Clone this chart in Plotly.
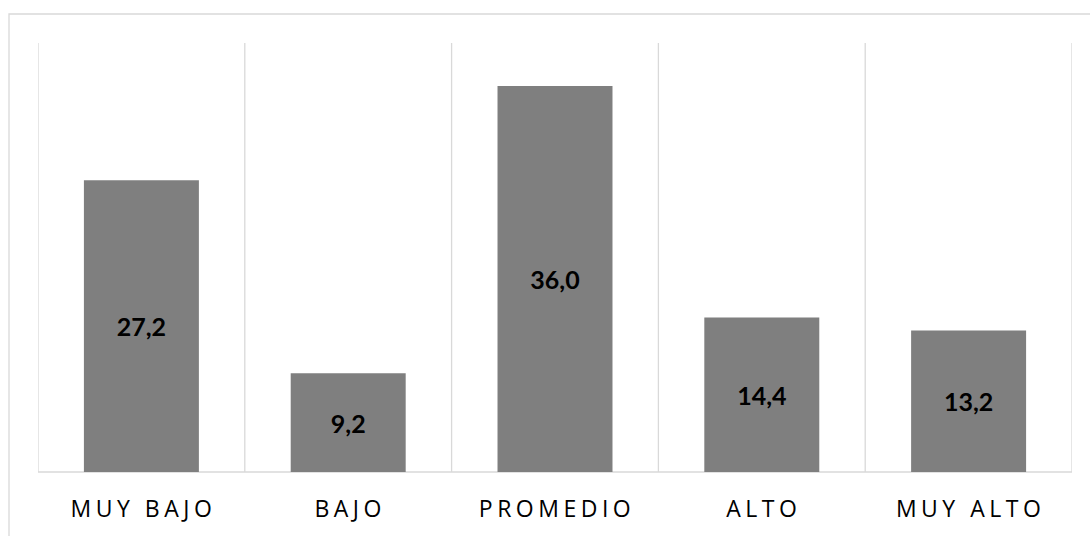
import plotly.graph_objects as go

categories = ["MUY BAJO", "BAJO", "PROMEDIO", "ALTO", "MUY ALTO"]
values = [27.2, 9.2, 36.0, 14.4, 13.2]

W, H = 1090, 536
ml, mr, mt, mb = 38, 18, 43, 64
grid = "#d9d9d9"

fig = go.Figure(go.Bar(
    x=list(range(len(categories))),
    y=values,
    marker=dict(color="#7f7f7f", line=dict(width=0)),
    texttemplate="%{y:.1f}",
    textposition="inside",
    insidetextanchor="middle",
    textangle=0,
    textfont=dict(family="Lato", size=25, color="#000000", weight="bold"),
    width=0.556,
    hoverinfo="skip",
))

shapes = []
for i in range(len(categories) + 1):
    shapes.append(dict(type="line", xref="x", yref="paper",
                       x0=i - 0.5, x1=i - 0.5, y0=0, y1=1,
                       line=dict(color=grid, width=1.3), layer="below"))
shapes.append(dict(type="line", xref="paper", yref="paper", x0=0, x1=1, y0=0, y1=0,
                   line=dict(color=grid, width=1.3), layer="below"))
pw = W - ml - mr
ph = H - mt - mb
shapes.append(dict(type="rect", xref="paper", yref="paper",
                   x0=(9 - ml) / pw, x1=(W + 5 - ml) / pw,
                   y0=-(mb + 5) / ph, y1=1 + (mt - 14) / ph,
                   line=dict(color=grid, width=1.3), fillcolor="rgba(0,0,0,0)"))

fig.update_layout(
    width=W, height=H,
    margin=dict(l=ml, r=mr, t=mt, b=mb),
    paper_bgcolor="white", plot_bgcolor="white",
    separators=",.",
    showlegend=False,
    shapes=shapes,
    xaxis=dict(range=[-0.5, len(categories) - 0.5], tickvals=list(range(len(categories))),
               ticktext=categories, showgrid=False, zeroline=False, showline=False,
               ticks="", tickfont=dict(family="Open Sans", size=23, color="#000000"),
               ticklabelstandoff=21),
    yaxis=dict(range=[0, 40], showgrid=False, zeroline=False, showline=False,
               showticklabels=False, ticks=""),
)

post = """
document.querySelectorAll('.xtick text').forEach(function(t){
  t.style.letterSpacing = '4.5px';
  t.setAttribute('dx', '2');
});
"""
fig.write_html("out.html", post_script=post)
